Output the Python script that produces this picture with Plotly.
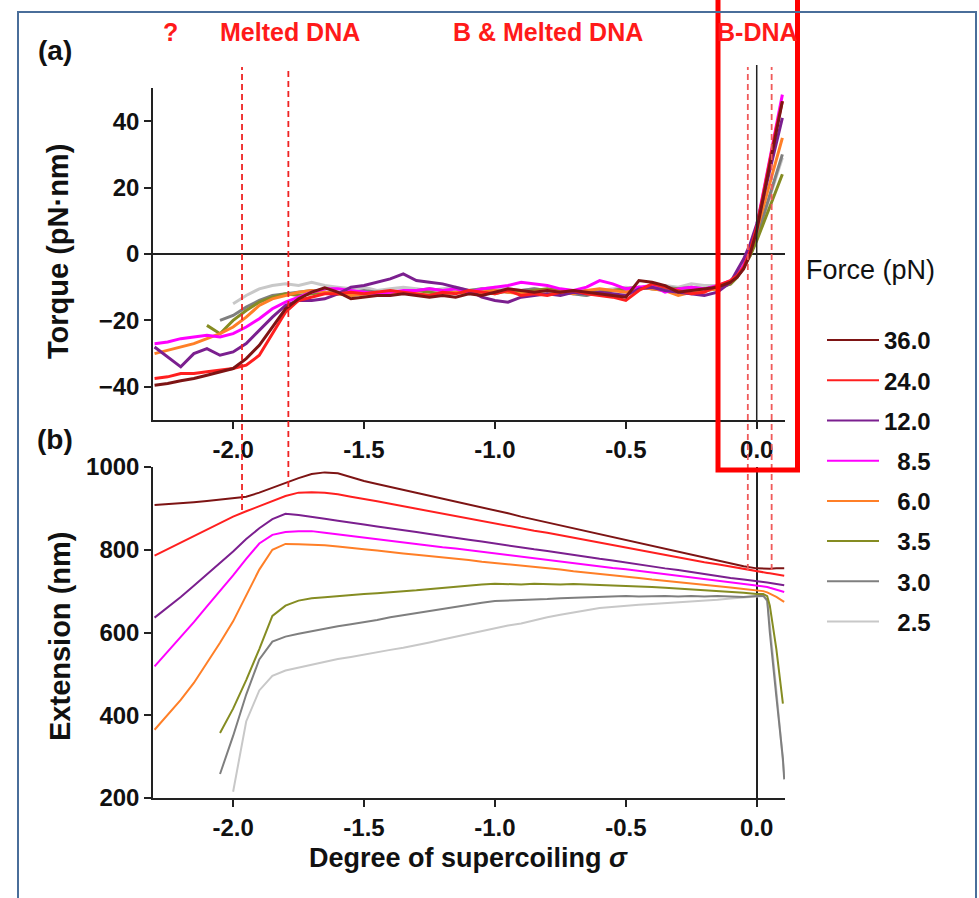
import plotly.graph_objects as go

FORCES = ["36.0", "24.0", "12.0", "8.5", "6.0", "3.5", "3.0", "2.5"]
LEGEND_LABELS = ["36.0", "24.0", "12.0", "\u20078.5", "\u20076.0", "\u20073.5", "\u20073.0", "\u20072.5"]
COLORS = ["#7d1414", "#ff1f1f", "#7b1f8f", "#ff00ff", "#ff7f27", "#858c22", "#7f7f7f", "#c8c8c8"]

# ---- panel (a): torque vs supercoiling ----
SIGMA_T = [-2.30, -2.25, -2.20, -2.15, -2.10, -2.05, -2.00, -1.95, -1.90, -1.85,
           -1.80, -1.75, -1.70, -1.65, -1.60, -1.55, -1.50, -1.45, -1.40, -1.35,
           -1.30, -1.25, -1.20, -1.15, -1.10, -1.05, -1.00, -0.95, -0.90, -0.85,
           -0.80, -0.75, -0.70, -0.65, -0.60, -0.55, -0.50, -0.45, -0.40, -0.35,
           -0.30, -0.25, -0.20, -0.15, -0.10, -0.075, -0.05, -0.025, 0.0, 0.025,
           0.05, 0.075, 0.098]

TORQUE_36 = [-39.5, -39.0, -38.2, -37.5, -36.5, -35.5, -34.5, -31.5, -27.5, -22.0,
             -16.5, -13.5, -11.5, -10.2, -11.5, -13.5, -13.0, -12.5, -12.5, -12.0,
             -12.5, -13.0, -12.5, -13.0, -12.0, -12.5, -11.5, -10.5, -11.0, -11.5,
             -11.0, -11.5, -11.0, -11.5, -12.0, -12.5, -13.0, -8.0, -8.5, -9.5,
             -11.5, -11.0, -10.5, -10.0, -8.5, -7.0, -4.5, 0.0, 7.0, 17.0,
             27.0, 37.0, 46.0]
TORQUE_24 = [-37.5, -37.0, -36.0, -36.0, -35.5, -35.0, -34.5, -33.5, -30.5, -24.0,
             -17.5, -14.0, -13.0, -12.0, -12.0, -11.5, -12.0, -11.5, -11.0, -11.5,
             -12.0, -12.5, -11.5, -12.0, -11.0, -11.5, -12.0, -11.0, -12.5, -12.0,
             -12.5, -11.5, -11.0, -12.0, -12.5, -13.0, -14.0, -11.0, -9.0, -10.0,
             -11.0, -12.0, -11.5, -9.5, -8.0, -6.5, -4.0, 1.0, 8.0, 18.0,
             28.0, 38.0, 46.0]
TORQUE_12 = [-28.0, -31.0, -34.0, -30.0, -28.5, -30.5, -29.5, -27.0, -23.0, -19.0,
             -15.5, -14.0, -14.0, -13.5, -12.0, -10.0, -9.5, -8.5, -7.5, -6.0,
             -8.0, -8.5, -9.0, -10.0, -11.0, -13.0, -14.0, -14.5, -13.0, -12.5,
             -12.0, -12.5, -11.5, -12.0, -11.5, -12.0, -12.5, -10.5, -10.0, -11.0,
             -11.5, -12.0, -12.5, -11.5, -8.5, -5.0, -1.5, 3.0, 9.0, 17.0,
             25.0, 33.0, 41.0]
TORQUE_8_5 = [-27.0, -26.5, -25.5, -25.0, -24.5, -25.0, -24.0, -22.0, -19.5, -16.5,
              -14.5, -13.0, -11.5, -10.5, -10.5, -11.0, -11.5, -12.0, -11.5, -11.0,
              -11.0, -10.5, -11.0, -10.5, -11.5, -10.5, -10.0, -9.5, -8.5, -9.0,
              -9.5, -10.5, -11.0, -10.0, -8.0, -9.0, -10.5, -10.0, -9.5, -11.5,
              -10.5, -10.0, -10.5, -9.5, -8.0, -6.5, -3.5, 1.5, 8.5, 18.5,
              28.5, 38.5, 48.0]
TORQUE_6 = [-30.0, -29.0, -28.0, -27.0, -25.5, -24.0, -22.0, -19.0, -15.5, -13.5,
            -12.5, -11.5, -11.0, -11.5, -12.0, -12.5, -12.0, -12.5, -12.0, -11.5,
            -12.0, -12.5, -12.0, -11.5, -12.0, -11.5, -11.0, -11.5, -12.0, -11.5,
            -11.0, -11.5, -12.0, -11.0, -10.5, -11.0, -11.5, -10.0, -10.5, -11.0,
            -12.5, -11.5, -11.0, -10.5, -8.5, -6.5, -3.5, 1.0, 7.0, 14.0,
            21.0, 28.0, 35.0]
TORQUE_3_5 = [None, None, None, None, -21.5, -24.0, -20.0, -17.0, -14.5, -13.0,
              -12.0, -12.5, -12.0, -11.5, -12.0, -12.5, -12.0, -11.5, -12.0, -11.5,
              -11.0, -11.5, -12.0, -11.5, -11.0, -11.5, -12.0, -11.0, -11.5, -11.0,
              -10.5, -11.0, -11.5, -11.0, -11.5, -11.0, -10.5, -10.0, -10.5, -11.0,
              -10.5, -11.0, -11.0, -10.5, -9.0, -7.0, -4.0, -0.5, 4.0, 9.0,
              14.0, 19.0, 24.0]
TORQUE_3 = [None, None, None, None, None, -20.0, -18.5, -16.0, -14.0, -12.5,
            -12.0, -11.5, -11.0, -11.5, -12.0, -11.5, -11.0, -11.5, -12.0, -11.5,
            -11.0, -10.5, -11.0, -11.5, -11.0, -10.5, -11.0, -11.5, -11.0, -10.5,
            -11.0, -11.5, -12.0, -12.5, -11.5, -11.0, -10.5, -10.0, -10.5, -10.0,
            -10.5, -10.0, -10.5, -10.0, -9.0, -7.0, -4.0, -0.5, 5.0, 11.5,
            18.0, 24.0, 30.0]
TORQUE_2_5 = [None, None, None, None, None, None, -15.0, -12.5, -10.5, -9.5,
              -9.0, -9.5, -8.5, -9.5, -10.0, -10.5, -10.0, -11.0, -10.5, -10.0,
              -10.5, -11.0, -10.5, -10.0, -11.0, -10.5, -10.0, -10.5, -11.0, -10.5,
              -11.0, -11.5, -12.0, -12.5, -11.0, -10.5, -10.0, -10.5, -10.0, -9.5,
              -10.0, -9.0, -9.5, -9.5, -8.5, -7.0, -4.0, 0.0, 5.0, 11.0,
              17.0, 23.0, 29.0]

# ---- panel (b): extension vs supercoiling ----
SIGMA_E = [-2.30, -2.25, -2.20, -2.15, -2.10, -2.05, -2.00, -1.95, -1.90, -1.85,
           -1.80, -1.75, -1.70, -1.65, -1.60, -1.55, -1.50, -1.45, -1.40, -1.35,
           -1.30, -1.25, -1.20, -1.15, -1.10, -1.05, -1.00, -0.95, -0.90, -0.85,
           -0.80, -0.75, -0.70, -0.65, -0.60, -0.55, -0.50, -0.45, -0.40, -0.35,
           -0.30, -0.25, -0.20, -0.15, -0.10, -0.05, 0.0, 0.025, 0.04, 0.05,
           0.075, 0.10, 0.105]

EXT_36 = [908, 910, 912, 915, 918, 921, 924, 928, 938, 950,
          962, 973, 983, 987, 985, 975, 966, 959, 952, 944,
          937, 930, 923, 916, 909, 902, 895, 888, 880, 873,
          866, 859, 852, 845, 838, 831, 824, 817, 810, 802,
          795, 788, 781, 774, 767, 760, 755, 754, 754, 754,
          755, 755, 755]
EXT_24 = [786, 802, 818, 834, 850, 866, 880, 893, 905, 918,
          930, 938, 939, 938, 934, 928, 923, 917, 911, 905,
          899, 893, 887, 882, 876, 870, 864, 858, 852, 846,
          841, 835, 829, 823, 817, 811, 806, 800, 794, 788,
          782, 776, 770, 765, 759, 753, 747, 745, 744, 743,
          740, 738, 737]
EXT_12 = [636, 660, 686, 713, 740, 768, 796, 826, 852, 874,
          887, 884, 880, 875, 870, 866, 861, 856, 852, 847,
          843, 838, 833, 829, 824, 820, 815, 810, 806, 801,
          797, 792, 787, 783, 778, 774, 769, 764, 760, 755,
          751, 746, 741, 737, 732, 728, 723, 722, 721, 720,
          717, 715, 714]
EXT_8_5 = [518, 553, 590, 625, 663, 700, 738, 778, 815, 836,
           843, 845, 845, 841, 837, 833, 830, 826, 822, 818,
           814, 810, 806, 803, 799, 795, 791, 787, 783, 779,
           776, 772, 768, 764, 760, 756, 753, 749, 745, 741,
           737, 733, 729, 726, 722, 718, 714, 712, 710, 708,
           704, 699, 698]
EXT_6 = [365, 400, 437, 478, 525, 575, 627, 690, 752, 800,
         814, 813, 812, 811, 808, 804, 801, 798, 794, 791,
         788, 785, 781, 778, 775, 771, 768, 765, 761, 758,
         755, 752, 748, 745, 742, 738, 735, 732, 728, 725,
         722, 719, 715, 712, 709, 705, 702, 700, 697, 694,
         686, 676, 674]
EXT_3_5 = [None, None, None, None, None, 357, 416, 485, 560, 640,
           665, 677, 683, 685, 688, 690, 693, 695, 698, 700,
           702, 705, 708, 710, 713, 716, 718, 717, 716, 718,
           717, 716, 717, 716, 715, 714, 713, 712, 710, 708,
           706, 705, 703, 701, 699, 696, 693, 693, 688, 665,
           560, 428, None]
EXT_3 = [None, None, None, None, None, 258, 350, 450, 535, 578,
         590, 597, 603, 610, 615, 620, 625, 630, 637, 642,
         647, 652, 658, 662, 667, 672, 676, 677, 679, 680,
         681, 683, 684, 685, 686, 687, 688, 687, 688, 688,
         687, 688, 687, 688, 687, 686, 688, 689, 678, 600,
         445, 295, 245]
EXT_2_5 = [None, None, None, None, None, None, 215, 385, 460, 495,
           508, 515, 522, 530, 536, 541, 547, 553, 558, 563,
           569, 576, 583, 590, 597, 604, 611, 617, 622, 630,
           637, 643, 649, 654, 659, 662, 665, 667, 669, 671,
           673, 674, 676, 679, 682, 685, 687, 688, 676, 620,
           460, 300, 255]

TORQUE = [TORQUE_36, TORQUE_24, TORQUE_12, TORQUE_8_5, TORQUE_6, TORQUE_3_5, TORQUE_3, TORQUE_2_5]
EXTENSION = [EXT_36, EXT_24, EXT_12, EXT_8_5, EXT_6, EXT_3_5, EXT_3, EXT_2_5]

X_TICKS = [-2.0, -1.5, -1.0, -0.5, 0.0]
X_TICKTEXT = ["-2.0", "-1.5", "-1.0", "-0.5", "0.0"]
T_TICKS = [-40, -20, 0, 20, 40]
E_TICKS = [200, 400, 600, 800, 1000]
REGION_LABELS = ["?", "Melted DNA", "B & Melted DNA", "B-DNA"]
REGION_X = [170, 290, 548, 757]          # pixel centres of the region labels
TRANSITIONS = [-1.966, -1.789, -0.034, 0.057]

W, H = 979, 898
FONT = "Liberation Sans, Arial, sans-serif"


def px(x):
    return x / W


def py(y):
    return 1 - y / H


fig = go.Figure()

# draw low forces first so high forces sit on top
for i in reversed(range(len(FORCES))):
    fig.add_trace(go.Scatter(
        x=SIGMA_T, y=TORQUE[i], mode="lines", xaxis="x", yaxis="y",
        line=dict(color=COLORS[i], width=3), showlegend=False, hoverinfo="skip"))
for i in reversed(range(len(FORCES))):
    fig.add_trace(go.Scatter(
        x=SIGMA_E, y=EXTENSION[i], mode="lines", xaxis="x2", yaxis="y2",
        line=dict(color=COLORS[i], width=2), name=LEGEND_LABELS[i],
        legendgroup=FORCES[i], legendrank=i + 1, showlegend=True, hoverinfo="skip"))

XR = [-2.306, 0.108]
axis_common = dict(showline=True, linecolor="#222", linewidth=1.5, ticks="outside",
                   ticklen=7, tickwidth=1.5, tickcolor="#222", showgrid=False,
                   automargin=False,
                   tickfont=dict(family=FONT, size=24, color="#111", weight="bold"))

fig.update_layout(
    width=W, height=H, margin=dict(l=0, r=0, t=0, b=0, autoexpand=False),
    paper_bgcolor="white", plot_bgcolor="white",
    xaxis=dict(domain=[px(153), px(785)], range=XR, anchor="y", tickvals=X_TICKS,
               ticktext=X_TICKTEXT, zeroline=False, **axis_common),
    yaxis=dict(domain=[py(420), py(88)], range=[-50, 50], anchor="x", tickvals=T_TICKS,
               zeroline=True, zerolinecolor="#222", zerolinewidth=1.5, **axis_common),
    xaxis2=dict(domain=[px(153), px(785)], range=XR, anchor="y2", tickvals=X_TICKS,
                ticktext=X_TICKTEXT, zeroline=True, zerolinecolor="#222", zerolinewidth=1.5,
                **axis_common),
    yaxis2=dict(domain=[py(798), py(467)], range=[200, 1000], anchor="x2", tickvals=E_TICKS,
                zeroline=False, **axis_common),
    legend=dict(x=px(822), y=py(318), xanchor="left", yanchor="top",
                bgcolor="rgba(0,0,0,0)", traceorder="grouped", tracegroupgap=6, itemwidth=52,
                font=dict(family=FONT, size=24, color="#111", weight="bold")),
    showlegend=True,
)

shapes = []
# vertical sigma = 0 line in panel (a), extended above the plot
shapes.append(dict(type="line", xref="x", yref="paper", x0=0, x1=0, y0=py(420), y1=py(65),
                   line=dict(color="#222", width=1.5)))
# dashed transition markers
ends = [510, 487, 570, 570]
dcolors = ["#ee2222", "#ee2222", "#f05a5a", "#f05a5a"]
for s, e, c in zip(TRANSITIONS, ends, dcolors):
    shapes.append(dict(type="line", xref="x", yref="paper", x0=s, x1=s, y0=py(e), y1=py(67),
                       line=dict(color=c, width=1.8, dash="6px,4px"), layer="above"))
# highlight box around B-DNA region
shapes.append(dict(type="rect", xref="paper", yref="paper", x0=px(718), x1=px(797.5),
                   y0=py(470), y1=py(-20), line=dict(color="#ff0000", width=5),
                   fillcolor="rgba(0,0,0,0)", layer="above"))
# slide frame
shapes.append(dict(type="rect", xref="paper", yref="paper", x0=px(18), x1=px(976),
                   y0=py(910), y1=py(12), line=dict(color="#4a6e9a", width=2),
                   fillcolor="rgba(0,0,0,0)", layer="above"))
fig.update_layout(shapes=shapes)

ann = []
for t, xc in zip(REGION_LABELS, REGION_X):
    ann.append(dict(text=t, x=px(xc), y=py(32), xref="paper", yref="paper", showarrow=False,
                    xanchor="center", yanchor="middle",
                    font=dict(family=FONT, size=25, color="#ff1a1a", weight="bold")))
ann.append(dict(text="(a)", x=px(55), y=py(50), xref="paper", yref="paper", showarrow=False,
                xanchor="center", yanchor="middle",
                font=dict(family=FONT, size=28, color="#111", weight="bold")))
ann.append(dict(text="(b)", x=px(55), y=py(440), xref="paper", yref="paper", showarrow=False,
                xanchor="center", yanchor="middle",
                font=dict(family=FONT, size=28, color="#111", weight="bold")))
ann.append(dict(text="Torque (pN\u00b7nm)", x=px(58), y=py(252), xref="paper", yref="paper",
                showarrow=False, textangle=-90, xanchor="center", yanchor="middle",
                font=dict(family=FONT, size=29, color="#111", weight="bold")))
ann.append(dict(text="Extension (nm)", x=px(60), y=py(637), xref="paper", yref="paper",
                showarrow=False, textangle=-90, xanchor="center", yanchor="middle",
                font=dict(family=FONT, size=29, color="#111", weight="bold")))
ann.append(dict(text="Degree of supercoiling <i>\u03c3</i>", x=px(468), y=py(858), xref="paper",
                yref="paper", showarrow=False, xanchor="center", yanchor="middle",
                font=dict(family=FONT, size=27, color="#111", weight="bold")))
ann.append(dict(text="Force (pN)", x=px(870), y=py(270), xref="paper", yref="paper",
                showarrow=False, xanchor="center", yanchor="middle",
                font=dict(family=FONT, size=27, color="#111")))
fig.update_layout(annotations=ann)

fig.write_html("out.html")
